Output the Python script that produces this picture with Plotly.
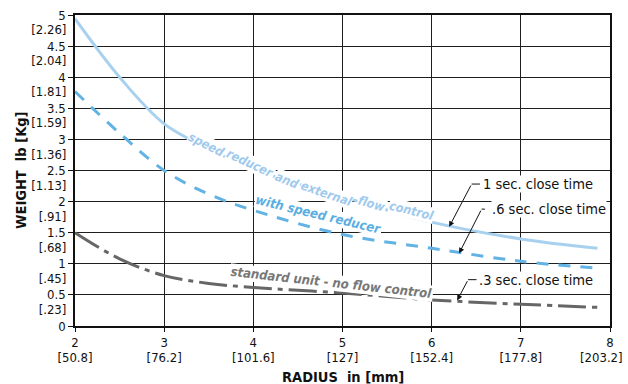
import plotly.graph_objects as go

# Radius (in) sample points and weight (lb) for each cylinder option
radius = [2, 2.5, 3, 3.5, 4, 5, 6, 7, 7.86]
w_ext_flow = [4.94, 4.0, 3.25, 2.85, 2.52, 2.08, 1.67, 1.40, 1.25]
w_speed = [3.77, 3.1, 2.5, 2.12, 1.86, 1.47, 1.25, 1.04, 0.93]
w_standard = [1.5, 1.08, 0.81, 0.685, 0.62, 0.53, 0.42, 0.35, 0.30]

x_ticks = [2, 3, 4, 5, 6, 7, 8]
x_mm = ["[50.8]", "[76.2]", "[101.6]", "[127]", "[152.4]", "[177.8]", "[203.2]"]
y_ticks = [0, 0.5, 1, 1.5, 2, 2.5, 3, 3.5, 4, 4.5, 5]
y_lb = ["0", "0.5", "1", "1.5", "2", "2.5", "3", "3.5", "4", "4.5", "5"]
y_kg = ["[.23]", "[.45]", "[.68]", "[.91]", "[1.13]", "[1.36]", "[1.59]", "[1.81]", "[2.04]", "[2.26]"]

# Label words placed along the top curve: (text, x, y, angle)
curve_words = [("speed", 3.476, 2.911, 27), ("reducer", 3.973, 2.616, 25),
               ("and", 4.388, 2.339, 22), ("external", 4.822, 2.132, 19),
               ("flow", 5.326, 1.971, 16), ("control", 5.775, 1.863, 14)]

# Callouts: text, text-left x, y, elbow start x, elbow x, head x, head y
callouts = [("1 sec. close time", 6.563, 2.282, 6.541, 6.448, 6.196, 1.594),
            (".6 sec. close time", 6.664, 1.879, 6.597, 6.560, 6.308, 1.169),
            (".3 sec. close time", 6.521, 0.745, 6.503, 6.409, 6.286, 0.411)]

NARROW = "DejaVu Sans Condensed, Liberation Sans, sans-serif"
C_LIGHT = "#a8d1f0"
C_MID = "#62b3e4"
C_GRAY = "#666666"

# plot-area margins (px) on a 628 x 384 page
M_L, M_R, M_T, M_B = 75, 18, 15, 58
PLOT_W = 628 - M_L - M_R

fig = go.Figure()
fig.add_trace(go.Scatter(x=radius, y=w_ext_flow, mode="lines",
                         line=dict(color=C_LIGHT, width=3, shape="spline"), hoverinfo="skip"))
fig.add_trace(go.Scatter(x=radius, y=w_speed, mode="lines",
                         line=dict(color=C_MID, width=3, shape="spline", dash="12px,10px"),
                         hoverinfo="skip"))
fig.add_trace(go.Scatter(x=radius, y=w_standard, mode="lines",
                         line=dict(color=C_GRAY, width=3, shape="spline", dash="28px,6px,5px,6px"),
                         hoverinfo="skip"))
# invisible trace to activate the secondary axes that carry metric labels
fig.add_trace(go.Scatter(x=[2], y=[0], xaxis="x2", yaxis="y2", mode="markers",
                         marker=dict(opacity=0), hoverinfo="skip"))

annotations = []
for word, x, y, ang in curve_words:
    annotations.append(dict(x=x, y=y, text=f"<b><i>{word}</i></b>", showarrow=False,
                            textangle=ang, font=dict(family=NARROW, size=12.5, color="#9fcaee"),
                            bgcolor="white", borderpad=0))
annotations.append(dict(x=4.735, y=1.79, text="<b><i>with speed reducer</i></b>", showarrow=False,
                        textangle=13.5, font=dict(family=NARROW, size=13, color="#5aaee2"),
                        bgcolor="white", borderpad=0))
annotations.append(dict(x=4.878, y=0.694, text="<b><i>standard unit - no flow control</i></b>",
                        showarrow=False, textangle=6.3,
                        font=dict(family=NARROW, size=13, color="#777777"),
                        bgcolor="white", borderpad=0))

shapes = []
for text, tx, ty, sx, ex, hx, hy in callouts:
    annotations.append(dict(x=tx, y=ty, text=text, showarrow=False, xanchor="left",
                            font=dict(family=NARROW, size=14.5, color="#111111"),
                            bgcolor="white", borderpad=0))
    shapes.append(dict(type="line", x0=sx, y0=ty, x1=ex, y1=ty,
                       line=dict(color="#111111", width=1)))
    annotations.append(dict(x=hx, y=hy, ax=ex, ay=ty, axref="x", ayref="y", text="",
                            showarrow=True, arrowhead=2, arrowsize=1.1, arrowwidth=1,
                            arrowcolor="#111111", standoff=0))

tick_font = dict(family=NARROW, size=13, color="#111111")

# the last metric radius label is right-aligned so it stays on the page
annotations.append(dict(x=(625 - M_L) / PLOT_W, y=-0.1016, xref="paper", yref="paper",
                        xanchor="right", yanchor="middle",
                        text=x_mm[-1], showarrow=False, font=tick_font))

# axis titles
annotations.append(dict(x=0.5, y=-0.163, xref="paper", yref="paper", yanchor="middle",
                        text="<b>RADIUS  in [mm]</b>", showarrow=False,
                        font=dict(family=NARROW, size=14.5, color="#111111")))
annotations.append(dict(x=-0.102, y=0.5, xref="paper", yref="paper", xanchor="center",
                        text="<b>WEIGHT  lb [Kg]</b>", showarrow=False, textangle=-90,
                        font=dict(family=NARROW, size=14.5, color="#111111")))

fig.update_layout(
    width=628, height=384,
    margin=dict(l=M_L, r=M_R, t=M_T, b=M_B, autoexpand=False),
    paper_bgcolor="white", plot_bgcolor="white",
    showlegend=False,
    xaxis=dict(range=[2, 8], tickvals=x_ticks, ticktext=[str(v) for v in x_ticks],
               showgrid=True, gridcolor="#1e1e1e", gridwidth=1,
               showline=True, linecolor="#111111", linewidth=1.5, mirror=True,
               ticks="outside", ticklen=4, tickcolor="#111111", tickfont=tick_font,
               ticklabeloverflow="allow", automargin=False, zeroline=False, fixedrange=True),
    xaxis2=dict(range=[2, 8], overlaying="x", side="bottom", anchor="y",
                tickvals=x_ticks[:-1], ticktext=x_mm[:-1], showgrid=False, showline=False,
                ticks="outside", ticklen=19, tickcolor="rgba(0,0,0,0)", tickfont=tick_font,
                ticklabeloverflow="allow", automargin=False, zeroline=False, fixedrange=True),
    yaxis=dict(range=[0, 5], tickvals=y_ticks, ticktext=y_lb,
               showgrid=True, gridcolor="#1e1e1e", gridwidth=1,
               showline=True, linecolor="#111111", linewidth=1.5, mirror=True,
               ticks="outside", ticklen=5, tickcolor="#111111", tickfont=tick_font,
               automargin=False, zeroline=False, fixedrange=True),
    yaxis2=dict(range=[0, 5], overlaying="y", side="left", anchor="x",
                tickvals=[v - 0.235 for v in y_ticks[1:]], ticktext=y_kg,
                showgrid=False, showline=False, ticks="outside", ticklen=5,
                tickcolor="rgba(0,0,0,0)", tickfont=tick_font,
                automargin=False, zeroline=False, fixedrange=True),
    annotations=annotations,
    shapes=shapes,
)

fig.write_html("out.html")
